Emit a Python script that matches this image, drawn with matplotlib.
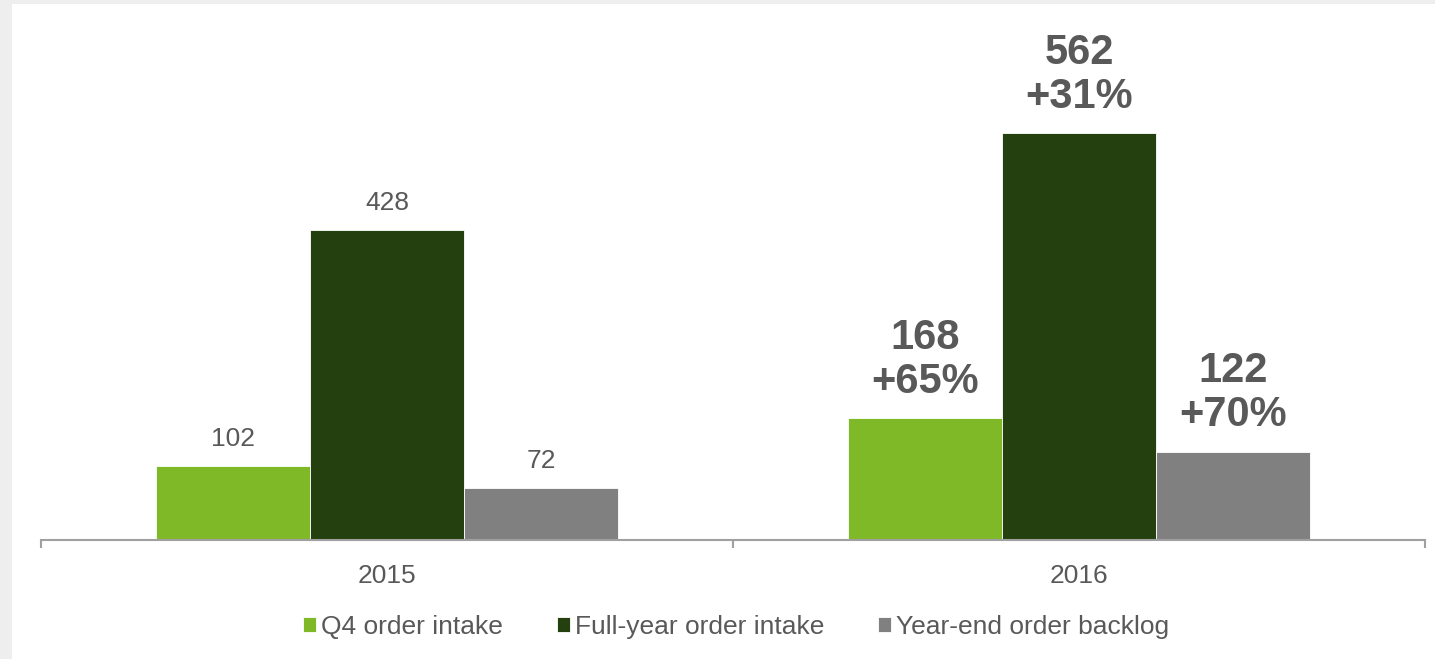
import matplotlib
matplotlib.use("Agg")
import matplotlib.pyplot as plt
import numpy as np
from matplotlib.patches import Rectangle

plt.rcParams['font.family'] = ['Liberation Sans', 'DejaVu Sans']

years = ["2015", "2016"]
series_names = ["Q4 order intake", "Full-year order intake", "Year-end order backlog"]
q4_intake = [102, 168]
fy_intake = [428, 562]
backlog = [72, 122]
growth_q4 = [None, "+65%"]
growth_fy = [None, "+31%"]
growth_backlog = [None, "+70%"]

colors = ["#80B927", "#23400E", "#808080"]
text_color = "#595959"

fig = plt.figure(figsize=(14.35, 6.59), dpi=100, facecolor="#EEEEEE")
fig.patches.append(Rectangle((12/1435, 0), 1 - 12/1435, (659-4)/659,
                             transform=fig.transFigure, facecolor="white",
                             edgecolor="none", zorder=-10))

ax = fig.add_axes([41/1435, 119/659, 1384/1435, 506.5/659])
ax.set_facecolor("none")
ax.set_zorder(1)

x = np.arange(len(years))
w = 0.2225
all_series = [q4_intake, fy_intake, backlog]
all_growth = [growth_q4, growth_fy, growth_backlog]
offsets = [-w, 0, w]
for vals, gr, off, col, name in zip(all_series, all_growth, offsets, colors, series_names):
    bars = ax.bar(x + off, vals, width=w, color=col, label=name,
                  edgecolor="white", linewidth=0.6)
    for b, v, g in zip(bars, vals, gr):
        cx = b.get_x() + b.get_width() / 2
        if g is None:
            ax.annotate(str(v), (cx, v), xytext=(0, 11), textcoords="offset points",
                        ha="center", va="bottom", fontsize=19, color=text_color)
        else:
            ax.annotate(f"{v}\n{g}", (cx, v), xytext=(0, 12), textcoords="offset points",
                        ha="center", va="bottom", fontsize=30, fontweight="bold",
                        color=text_color, linespacing=1.12)

ax.set_xlim(-0.5, 1.5)
ax.set_ylim(0, 700)
for s in ["top", "right", "left"]:
    ax.spines[s].set_visible(False)
ax.spines["bottom"].set_color("#A0A0A0")
ax.spines["bottom"].set_linewidth(1.5)
ax.set_yticks([])
ax.set_xticks(x)
ax.set_xticklabels(years, fontsize=19, color=text_color)
ax.tick_params(axis="x", which="major", length=0, pad=17)
ax.set_xticks([-0.5, 0.5, 1.5], minor=True)
ax.tick_params(axis="x", which="minor", length=6, width=1.5, color="#A0A0A0", direction="out")

fig.legend(loc="center", bbox_to_anchor=(736/1435, 1 - 627/659), ncol=3, frameon=False,
           fontsize=19, handlelength=0.5, handleheight=0.5, handletextpad=0.18,
           columnspacing=2.05, labelcolor=text_color)

fig.savefig("out.png", dpi=100, facecolor=fig.get_facecolor())
